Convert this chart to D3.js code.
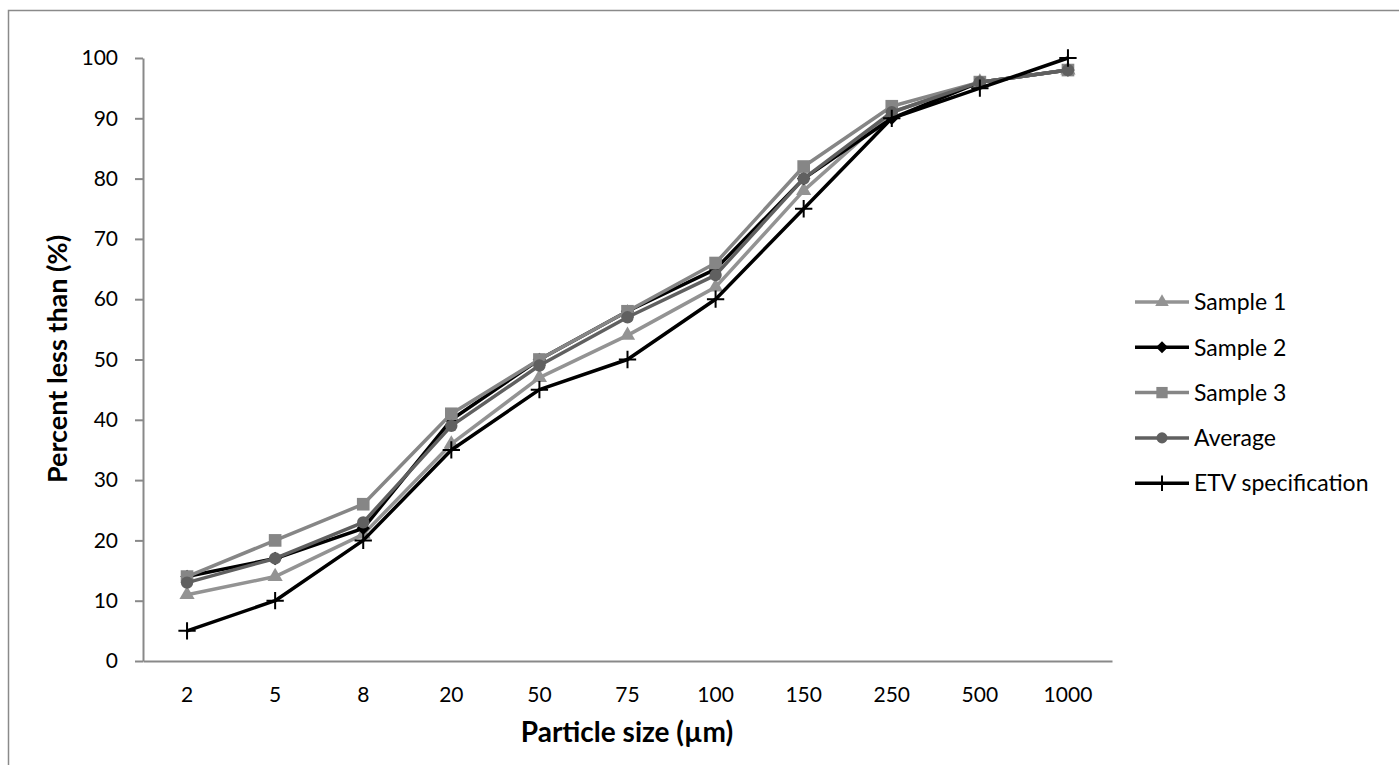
<html>
<script src='https://d3js.org/d3.v7.min.js'></script>
<style>
body { margin: 0; background: #fff; }
text { font-family: Lato, "Open Sans", sans-serif; fill: #000; }
</style>
<body onload='init()'>
<svg width=1399 height=765></svg>
<script>
// particle size categories (x axis)
var sizes = ["2", "5", "8", "20", "50", "75", "100", "150", "250", "500", "1000"];
var yTicks = [0, 10, 20, 30, 40, 50, 60, 70, 80, 90, 100];

// percent less than
var sample1 = [11, 14, 21, 36, 47, 54, 62, 78, 91, 96, 98];
var sample2 = [14, 17, 22, 40, 50, 58, 65, 80, 90, 96, 98];
var sample3 = [14, 20, 26, 41, 50, 58, 66, 82, 92, 96, 98];
var average = [13, 17, 23, 39, 49, 57, 64, 80, 91, 96, 98];
var etv     = [5, 10, 20, 35, 45, 50, 60, 75, 90, 95, 100];

var seriesNames = ["Sample 1", "Sample 2", "Sample 3", "Average", "ETV specification"];

function init() {
var svg = d3.select("svg");

// thin plus like excel's marker
var plusType = {
  draw: function (ctx, size) {
    var r = Math.sqrt(size) / 2;
    ctx.moveTo(-r, 0); ctx.lineTo(r, 0);
    ctx.moveTo(0, -r); ctx.lineTo(0, r);
  }
};
var diamondType = d3.symbolDiamond2 || d3.symbolDiamond;

var series = [
  {name: seriesNames[0], values: sample1, color: "#939393", type: d3.symbolTriangle, size: 100, stroke: false},
  {name: seriesNames[1], values: sample2, color: "#000000", type: diamondType,       size: 115, stroke: false},
  {name: seriesNames[2], values: sample3, color: "#868686", type: d3.symbolSquare,   size: 160, stroke: false},
  {name: seriesNames[3], values: average, color: "#606060", type: d3.symbolCircle,   size: 120, stroke: false},
  {name: seriesNames[4], values: etv,     color: "#000000", type: plusType,          size: 300, stroke: true}
];

// outer chart frame
svg.append("rect")
  .attr("x", 8.5).attr("y", 10.5)
  .attr("width", 1420).attr("height", 780)
  .style("fill", "none").style("stroke", "#8a8a8a").style("stroke-width", 1.5);

var x = d3.scaleBand().domain(sizes).range([143, 1112]).padding(0);
var y = d3.scaleLinear().domain([0, 100]).range([661, 58]);
function cx(i) { return x(sizes[i]) + x.bandwidth() / 2; }

// Y axis
var yAxis = svg.append("g")
  .attr("transform", "translate(143,0)")
  .call(d3.axisLeft(y).tickValues(yTicks).tickSize(8).tickPadding(17).tickSizeOuter(0));
// X axis
var xAxis = svg.append("g")
  .attr("transform", "translate(0,661)")
  .call(d3.axisBottom(x).tickSize(0).tickPadding(26).tickSizeOuter(0));

[yAxis, xAxis].forEach(function (g) {
  g.selectAll("path, line").style("stroke", "#898989").style("stroke-width", 2);
  g.selectAll("text").style("font-size", "21px").style("font-family", "Lato, sans-serif").style("fill", "#000");
});

// axis titles
svg.append("text")
  .attr("x", 627).attr("y", 742)
  .style("text-anchor", "middle").style("font-size", "28px").style("font-weight", "bold")
  .text("Particle size (µm)");
svg.append("text")
  .attr("transform", "translate(67,359) rotate(-90)")
  .style("text-anchor", "middle").style("font-size", "27px").style("font-weight", "bold")
  .text("Percent less than (%)");

var line = d3.line()
  .x(function (d, i) { return cx(i); })
  .y(function (d) { return y(d); });

series.forEach(function (s) {
  var g = svg.append("g");
  g.append("path")
    .datum(s.values)
    .attr("d", line)
    .style("fill", "none").style("stroke", s.color).style("stroke-width", 3.5)
    .style("stroke-linejoin", "round");
  g.selectAll("path.mark")
    .data(s.values)
    .enter()
    .append("path")
      .attr("class", "mark")
      .attr("transform", function (d, i) { return "translate(" + cx(i) + "," + y(d) + ")"; })
      .attr("d", d3.symbol().type(s.type).size(s.size))
      .style("fill", s.stroke ? "none" : s.color)
      .style("stroke", s.stroke ? s.color : "none")
      .style("stroke-width", 2);
});

// legend
var legend = svg.append("g").attr("transform", "translate(1135,302)");
var row = legend.selectAll("g")
  .data(series)
  .enter()
  .append("g")
    .attr("transform", function (d, i) { return "translate(0," + (i * 45.3) + ")"; });
row.append("line")
  .attr("x1", 0).attr("x2", 54)
  .style("stroke", function (d) { return d.color; }).style("stroke-width", 3.5);
row.append("path")
  .attr("transform", "translate(27,0)")
  .attr("d", function (d) { return d3.symbol().type(d.type).size(d.size * 0.8)(); })
  .style("fill", function (d) { return d.stroke ? "none" : d.color; })
  .style("stroke", function (d) { return d.stroke ? d.color : "none"; })
  .style("stroke-width", 2);
row.append("text")
  .attr("x", 59).attr("dy", "0.36em")
  .style("font-size", "23px")
  .text(function (d) { return d.name; });
}
</script>
</body>
</html>
